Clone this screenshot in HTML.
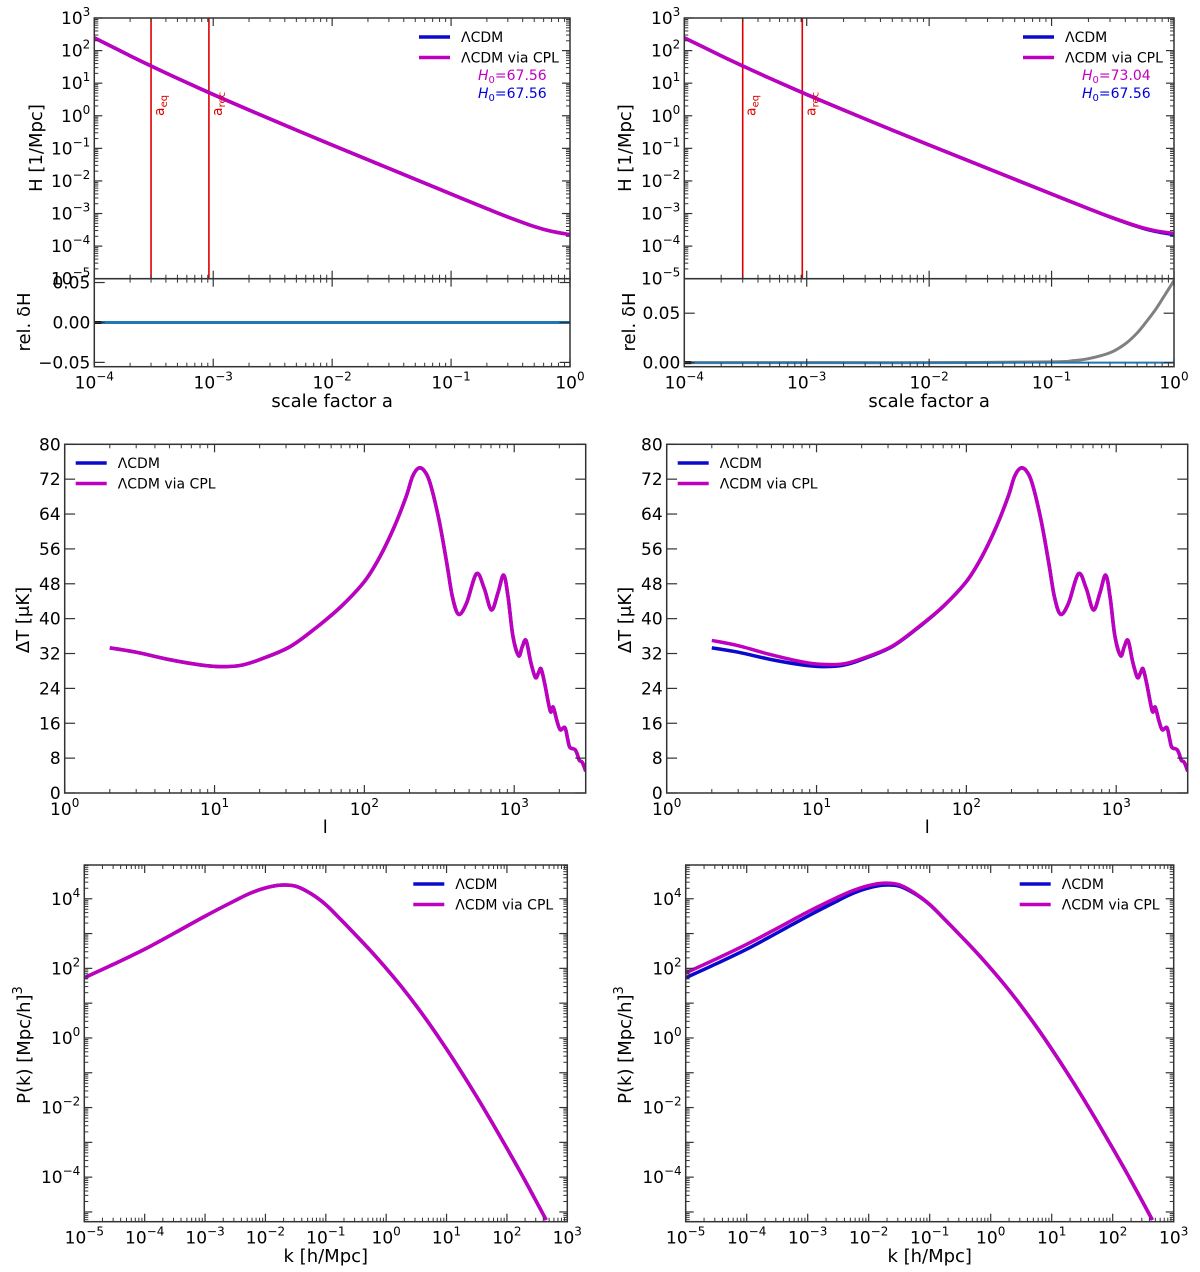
<!DOCTYPE html>
<html><head><meta charset="utf-8">
<style>
html,body{margin:0;padding:0;background:#fff;}
svg{display:block;font-family:"DejaVu Sans","Liberation Sans",sans-serif;}
</style></head>
<body>
<svg id="fig" width="1200" height="1272" viewBox="0 0 1200 1272" xmlns="http://www.w3.org/2000/svg"></svg>
<script>
// ---------- data ----------
const aVals = [1e-4,2e-4,3e-4,5e-4,1e-3,2e-3,5e-3,1e-2,2e-2,5e-2,0.1,0.2,0.3,0.5,0.7,1];
const hLcdm = [247,69.3,33.8,14.1,4.5,1.50,0.364,0.127,0.0446,0.01123,0.00397,0.001413,7.85e-4,4.0e-4,2.84e-4,2.25e-4];
const dhA = [1e-4,1e-3,1e-2,0.1,0.15,0.2,0.3,0.4,0.5,0.6,0.7,0.8,0.9,1.0];
const dhRight = [0,0,0,0.0008,0.002,0.004,0.010,0.019,0.030,0.042,0.053,0.064,0.074,0.083];
const hCplRight = [247,69.3,33.8,14.1,4.5,1.50,0.364,0.127,0.0446,0.01124,0.00397,0.001419,7.93e-4,4.12e-4,2.98e-4,2.44e-4];
const aEq = 3.0e-4, aRec = 9.2e-4;

const ellVals = [2,3,5,8,11,15,20,32,50,71,100,126,158,190,209,229,250,275,315,355,387,425,480,560,630,705,780,850,910,980,1070,1130,1200,1290,1385,1450,1510,1600,1740,1820,1930,2030,2180,2270,2350,2540,2630,2720,2850,3000];
const dtLcdm = [33.3,32.3,30.6,29.4,29.0,29.3,30.6,33.6,38.5,43,48.5,54,61,68,72.5,74.5,74,71,62.6,52.7,45,41,43.5,50.3,47,42,46,50,45,36,31.5,33.5,35,30,26.5,27.5,28.5,25,18.8,19.7,16.5,14.5,15,12.5,10.5,10,9,7.5,7,5];
const dtCplRight = [35.0,33.8,31.7,30.1,29.5,29.6,30.8,33.7,38.6,43,48.5,54,61,68,72.5,74.5,74,71,62.6,52.7,45,41,43.5,50.3,47,42,46,50,45,36,31.5,33.5,35,30,26.5,27.5,28.5,25,18.8,19.7,16.5,14.5,15,12.5,10.5,10,9,7.5,7,5];

const logK = [-5,-4.5,-4,-3.5,-3,-2.5,-2.25,-2,-1.75,-1.5,-1.25,-1,-0.75,-0.5,-0.25,0,0.25,0.5,0.75,1,1.25,1.5,1.75,2,2.25,2.5,2.65];
const logPLcdm = [1.73,2.13,2.55,3.02,3.50,3.95,4.16,4.31,4.39,4.36,4.15,3.83,3.40,2.95,2.49,2.00,1.48,0.92,0.32,-0.32,-0.99,-1.69,-2.42,-3.17,-3.94,-4.74,-5.23];
const logPCplRight = [1.87,2.27,2.69,3.15,3.62,4.05,4.24,4.38,4.45,4.40,4.17,3.84,3.40,2.95,2.49,2.00,1.48,0.92,0.32,-0.32,-0.99,-1.69,-2.42,-3.17,-3.94,-4.74,-5.23];

const xTicksA = ["−4","−3","−2","−1","0"];
const yTicksH = ["−5","−4","−3","−2","−1","0","1","2","3"];
const yTicksDT = [0,8,16,24,32,40,48,56,64,72,80];
const xTicksL = ["0","1","2","3"];
const xTicksK = ["−5","−4","−3","−2","−1","0","1","2","3"];
const yTicksP = ["−4","−2","0","2","4"];

// ---------- helpers ----------
const NS = "http://www.w3.org/2000/svg";
const svg = document.getElementById('fig');
function el(tag, attrs, parent){
  const e = document.createElementNS(NS, tag);
  for (const k in attrs) e.setAttribute(k, attrs[k]);
  (parent||svg).appendChild(e);
  return e;
}
const BLUE="#0a0acc", MAG="#bf00bf", SPINE="#333";
function makeAx(o){
  const ax = Object.assign({}, o);
  ax.sx = v => { const t = ax.xlog ? Math.log10(v) : v; return ax.x0 + (t-ax.xmin)/(ax.xmax-ax.xmin)*(ax.x1-ax.x0); };
  ax.sy = v => { const t = ax.ylog ? Math.log10(v) : v; return ax.y1 - (t-ax.ymin)/(ax.ymax-ax.ymin)*(ax.y1-ax.y0); };
  ax.syl = t => ax.y1 - (t-ax.ymin)/(ax.ymax-ax.ymin)*(ax.y1-ax.y0);
  ax.sxl = t => ax.x0 + (t-ax.xmin)/(ax.xmax-ax.xmin)*(ax.x1-ax.x0);
  return ax;
}
function smoothPath(pts){
  if (pts.length<2) return "";
  let d = "M"+pts[0][0].toFixed(2)+","+pts[0][1].toFixed(2);
  for (let i=0;i<pts.length-1;i++){
    const p0=pts[Math.max(0,i-1)], p1=pts[i], p2=pts[i+1], p3=pts[Math.min(pts.length-1,i+2)];
    const c1x=p1[0]+(p2[0]-p0[0])/6, c1y=p1[1]+(p2[1]-p0[1])/6;
    const c2x=p2[0]-(p3[0]-p1[0])/6, c2y=p2[1]-(p3[1]-p1[1])/6;
    d += " C"+c1x.toFixed(2)+","+c1y.toFixed(2)+" "+c2x.toFixed(2)+","+c2y.toFixed(2)+" "+p2[0].toFixed(2)+","+p2[1].toFixed(2);
  }
  return d;
}
function tick(g,x1,y1,x2,y2,w){ el('line',{x1:x1,y1:y1,x2:x2,y2:y2,stroke:SPINE,'stroke-width':w||1},g); }
function drawTicks(ax, g, opts){
  const MJ=8, MN=4;
  if (ax.xlog){
    for (let d=Math.floor(ax.xmin); d<=Math.ceil(ax.xmax); d++){
      for (let m=1;m<10;m++){
        const t = d+Math.log10(m);
        if (t<ax.xmin-1e-9||t>ax.xmax+1e-9) continue;
        const x=ax.sxl(t), L=(m===1)?MJ:MN, w=(m===1)?1.2:1;
        tick(g,x,ax.y1,x,ax.y1-L,w); tick(g,x,ax.y0,x,ax.y0+L,w);
      }
    }
  }
  if (ax.ylog){
    for (let d=Math.floor(ax.ymin); d<=Math.ceil(ax.ymax); d++){
      for (let m=1;m<10;m++){
        const t=d+Math.log10(m);
        if (t<ax.ymin-1e-9||t>ax.ymax+1e-9) continue;
        const y=ax.syl(t), L=(m===1)?MJ:MN, w=(m===1)?1.2:1;
        tick(g,ax.x0,y,ax.x0+L,y,w); tick(g,ax.x1,y,ax.x1-L,y,w);
      }
    }
  } else if (opts && opts.yLin){
    opts.yLin.forEach(v=>{ const y=ax.sy(v); tick(g,ax.x0,y,ax.x0+MJ*1.3,y,1.2); tick(g,ax.x1,y,ax.x1-MJ*1.3,y,1.2); });
  }
}
function frame(ax,g){ el('rect',{x:ax.x0,y:ax.y0,width:ax.x1-ax.x0,height:ax.y1-ax.y0,fill:'none',stroke:SPINE,'stroke-width':1.5},g); }
function powLabel(g,x,y,exp,anchor,name){
  const t = el('text',{x:x,y:y,'font-size':17,'text-anchor':anchor,fill:'#000'},g);
  
  
  const a = el('tspan',{},t); a.textContent="10";
  const b = el('tspan',{dy:-8,'font-size':12},t); b.textContent=exp;
  return t;
}
function plainText(g,x,y,s,anchor,size,name,extra){
  const t = el('text',Object.assign({x:x,y:y,'font-size':size||17,'text-anchor':anchor||'middle',fill:'#000'},extra||{}),g);
  
  
  t.textContent=s; return t;
}
function xPowLabels(ax,g,labels,first){
  labels.forEach((s,i)=>{ const x=ax.sxl(first+i); powLabel(g,x,ax.y1+22,s,'middle','x-tick-label'); });
}
function yPowLabels(ax,g,labels,values){
  labels.forEach((s,i)=>{ const y=ax.syl(values[i]); powLabel(g,ax.x0-4,y+6,s,'end','y-tick-label'); });
}
function curve(ax,g,xs,ys,color,w,name,isLogY){
  const pts = xs.map((x,i)=>[ax.sx(x), isLogY==='raw' ? ax.syl(ys[i]) : ax.sy(ys[i])]);
  const p = el('path',{d:smoothPath(pts),fill:'none',stroke:color,'stroke-width':w,'stroke-linejoin':'round','stroke-linecap':'butt'},g);
  
  
  return p;
}
function legend(g,x,y,items){
  const lg = el('g',{},g);
  
  
  items.forEach((it,i)=>{
    const yy=y+i*20.5;
    el('line',{x1:x,y1:yy,x2:x+31,y2:yy,stroke:it.c,'stroke-width':3.5},lg);
    plainText(lg,x+42,yy+5,it.s,'start',14,'legend-entry');
  });
}
function clipFor(ax,id){
  const cp = el('clipPath',{id:id});
  el('rect',{x:ax.x0,y:ax.y0,width:ax.x1-ax.x0,height:ax.y1-ax.y0},cp);
  return "url(#"+id+")";
}

// ---------- H(a) panels ----------
function hPanel(side, x0, x1, hCpl, dh, h0cpl, ylabX){
  const g = el('g',{});
  
  
  const ax = makeAx({x0:x0,x1:x1,y0:18,y1:278.7,xlog:true,xmin:-4,xmax:0,ylog:true,ymin:-5,ymax:3});
  const cg = el('g',{'clip-path':clipFor(ax,side+'clipH')},g);
  [aEq,aRec].forEach((a,i)=>{
    const l=el('line',{x1:ax.sx(a),y1:ax.y0,x2:ax.sx(a),y2:ax.y1,stroke:'#e00000','stroke-width':1.6},cg);
    
    
  });
  curve(ax,cg,aVals,hLcdm,BLUE,3.5,'lcdm-curve');
  curve(ax,cg,aVals,hCpl,MAG,3.5,'cpl-curve');
  [[aEq,'eq'],[aRec,'rec']].forEach(([a,sub])=>{
    const x=ax.sx(a)+13, y=116;
    const t=el('text',{x:x,y:y,'font-size':14,fill:'#e00000',transform:'rotate(-90 '+x+' '+y+')'},g);
    
    
    const s1=el('tspan',{},t); s1.textContent='a';
    const s2=el('tspan',{dy:3,'font-size':10},t); s2.textContent=sub;
  });
  drawTicks(ax,g); frame(ax,g);
  yPowLabels(ax,g,yTicksH,[-5,-4,-3,-2,-1,0,1,2,3]);
  plainText(g,ylabX,148,'H [1/Mpc]','middle',18,'y-axis-title',{transform:'rotate(-90 '+ylabX+' 148)'});
  legend(g,x1-151,37,[{c:BLUE,s:'ΛCDM'},{c:MAG,s:'ΛCDM via CPL'}]);
  const t1=el('text',{x:x1-92,y:80,'font-size':14,fill:MAG,'font-style':'italic'},g);
  
  
  t1.innerHTML='H<tspan dy="3" font-size="10" font-style="normal">0</tspan><tspan dy="-3" font-style="normal">='+h0cpl+'</tspan>';
  const t2=el('text',{x:x1-92,y:98,'font-size':14,fill:'#0000dd','font-style':'italic'},g);
  
  
  t2.innerHTML='H<tspan dy="3" font-size="10" font-style="normal">0</tspan><tspan dy="-3" font-style="normal">=67.56</tspan>';

  const isRight = side==='right';
  const bx = makeAx({x0:x0,x1:x1,y0:278.7,y1:366.7,xlog:true,xmin:-4,xmax:0,ylog:false,
    ymin: isRight? -0.0041 : -0.0554, ymax: isRight? 0.0849 : 0.0548});
  const g2 = el('g',{});  
  const cg2 = el('g',{'clip-path':clipFor(bx,side+'clipD')},g2);
  curve(bx,cg2,dhA,dh,'#808080',3,'relative-dh-curve');
  const bl = el('line',{x1:bx.x0,y1:bx.sy(0),x2:bx.x1,y2:bx.sy(0),stroke:'#1f77b4','stroke-width':isRight?2:3},cg2);
   
  el('line',{x1:bx.x0,y1:bx.sy(0),x2:bx.x0+7,y2:bx.sy(0),stroke:'#111','stroke-width':3},cg2);
  const yl = isRight? [0,0.05] : [-0.05,0,0.05];
  drawTicks(bx,g2,{yLin:yl}); frame(bx,g2);
  yl.forEach(v=>plainText(g2,bx.x0-4,bx.sy(v)+6,(v<0?'−':'')+Math.abs(v).toFixed(2),'end',17,'y-tick-label'));
  xPowLabels(bx,g2,xTicksA,-4);
  plainText(g2,(x0+x1)/2,407,'scale factor a','middle',18,'x-axis-title');
  const rx = ylabX + (isRight?4:-12);
  plainText(g2,rx,322,'rel. δH','middle',18,'y-axis-title',{transform:'rotate(-90 '+rx+' 322)'});
}
hPanel('left',94.3,570,hLcdm,dhRight.map(()=>0),'67.56',42);
hPanel('right',684.3,1174,hCplRight,dhRight,'73.04',631);

// ---------- CMB panels ----------
function cmbPanel(side,x0,x1,dtCpl,ylabX){
  const g = el('g',{});  
  const ax = makeAx({x0:x0,x1:x1,y0:444.3,y1:793,xlog:true,xmin:0,xmax:Math.log10(3000),ylog:false,ymin:0,ymax:80});
  const cg = el('g',{'clip-path':clipFor(ax,side+'clipC')},g);
  curve(ax,cg,ellVals,dtLcdm,BLUE,3.5,'lcdm-curve');
  curve(ax,cg,ellVals,dtCpl,MAG,3.5,'cpl-curve');
  drawTicks(ax,g,{yLin:yTicksDT}); frame(ax,g);
  yTicksDT.forEach(v=>plainText(g,ax.x0-4,ax.sy(v)+6,String(v),'end',17,'y-tick-label'));
  xPowLabels(ax,g,xTicksL,0);
  plainText(g,(x0+x1)/2,833,'l','middle',18,'x-axis-title');
  plainText(g,ylabX,620,'ΔT [μK]','middle',18,'y-axis-title',{transform:'rotate(-90 '+ylabX+' 620)'});
  legend(g,x0+11,463,[{c:BLUE,s:'ΛCDM'},{c:MAG,s:'ΛCDM via CPL'}]);
}
cmbPanel('left',64.7,585.7,dtLcdm,29);
cmbPanel('right',666.7,1187.7,dtCplRight,631);

// ---------- P(k) panels ----------
function pkPanel(side,x0,x1,lp,ylabX){
  const g = el('g',{});  
  const ax = makeAx({x0:x0,x1:x1,y0:865,y1:1221.7,xlog:true,xmin:-5,xmax:3,ylog:true,ymin:-5.28,ymax:4.97});
  const cg = el('g',{'clip-path':clipFor(ax,side+'clipP')},g);
  const ks = logK.map(v=>Math.pow(10,v));
  curve(ax,cg,ks,logPLcdm,BLUE,3.5,'lcdm-curve','raw');
  curve(ax,cg,ks,lp,MAG,3.5,'cpl-curve','raw');
  drawTicks(ax,g); frame(ax,g);
  yPowLabels(ax,g,yTicksP,[-4,-2,0,2,4]);
  xPowLabels(ax,g,xTicksK,-5);
  plainText(g,(x0+x1)/2,1262,'k [h/Mpc]','middle',18,'x-axis-title');
  const t = el('text',{x:ylabX,y:1045,'font-size':18,'text-anchor':'middle',transform:'rotate(-90 '+ylabX+' 1045)'},g);
   
  t.innerHTML='P(k) [Mpc/h]<tspan dy="-8" font-size="13">3</tspan>';
  legend(g,x1-154,884,[{c:BLUE,s:'ΛCDM'},{c:MAG,s:'ΛCDM via CPL'}]);
}
pkPanel('left',84.3,567.3,logPLcdm,30);
pkPanel('right',685.7,1173.7,logPCplRight,631);
</script>
</body></html>
